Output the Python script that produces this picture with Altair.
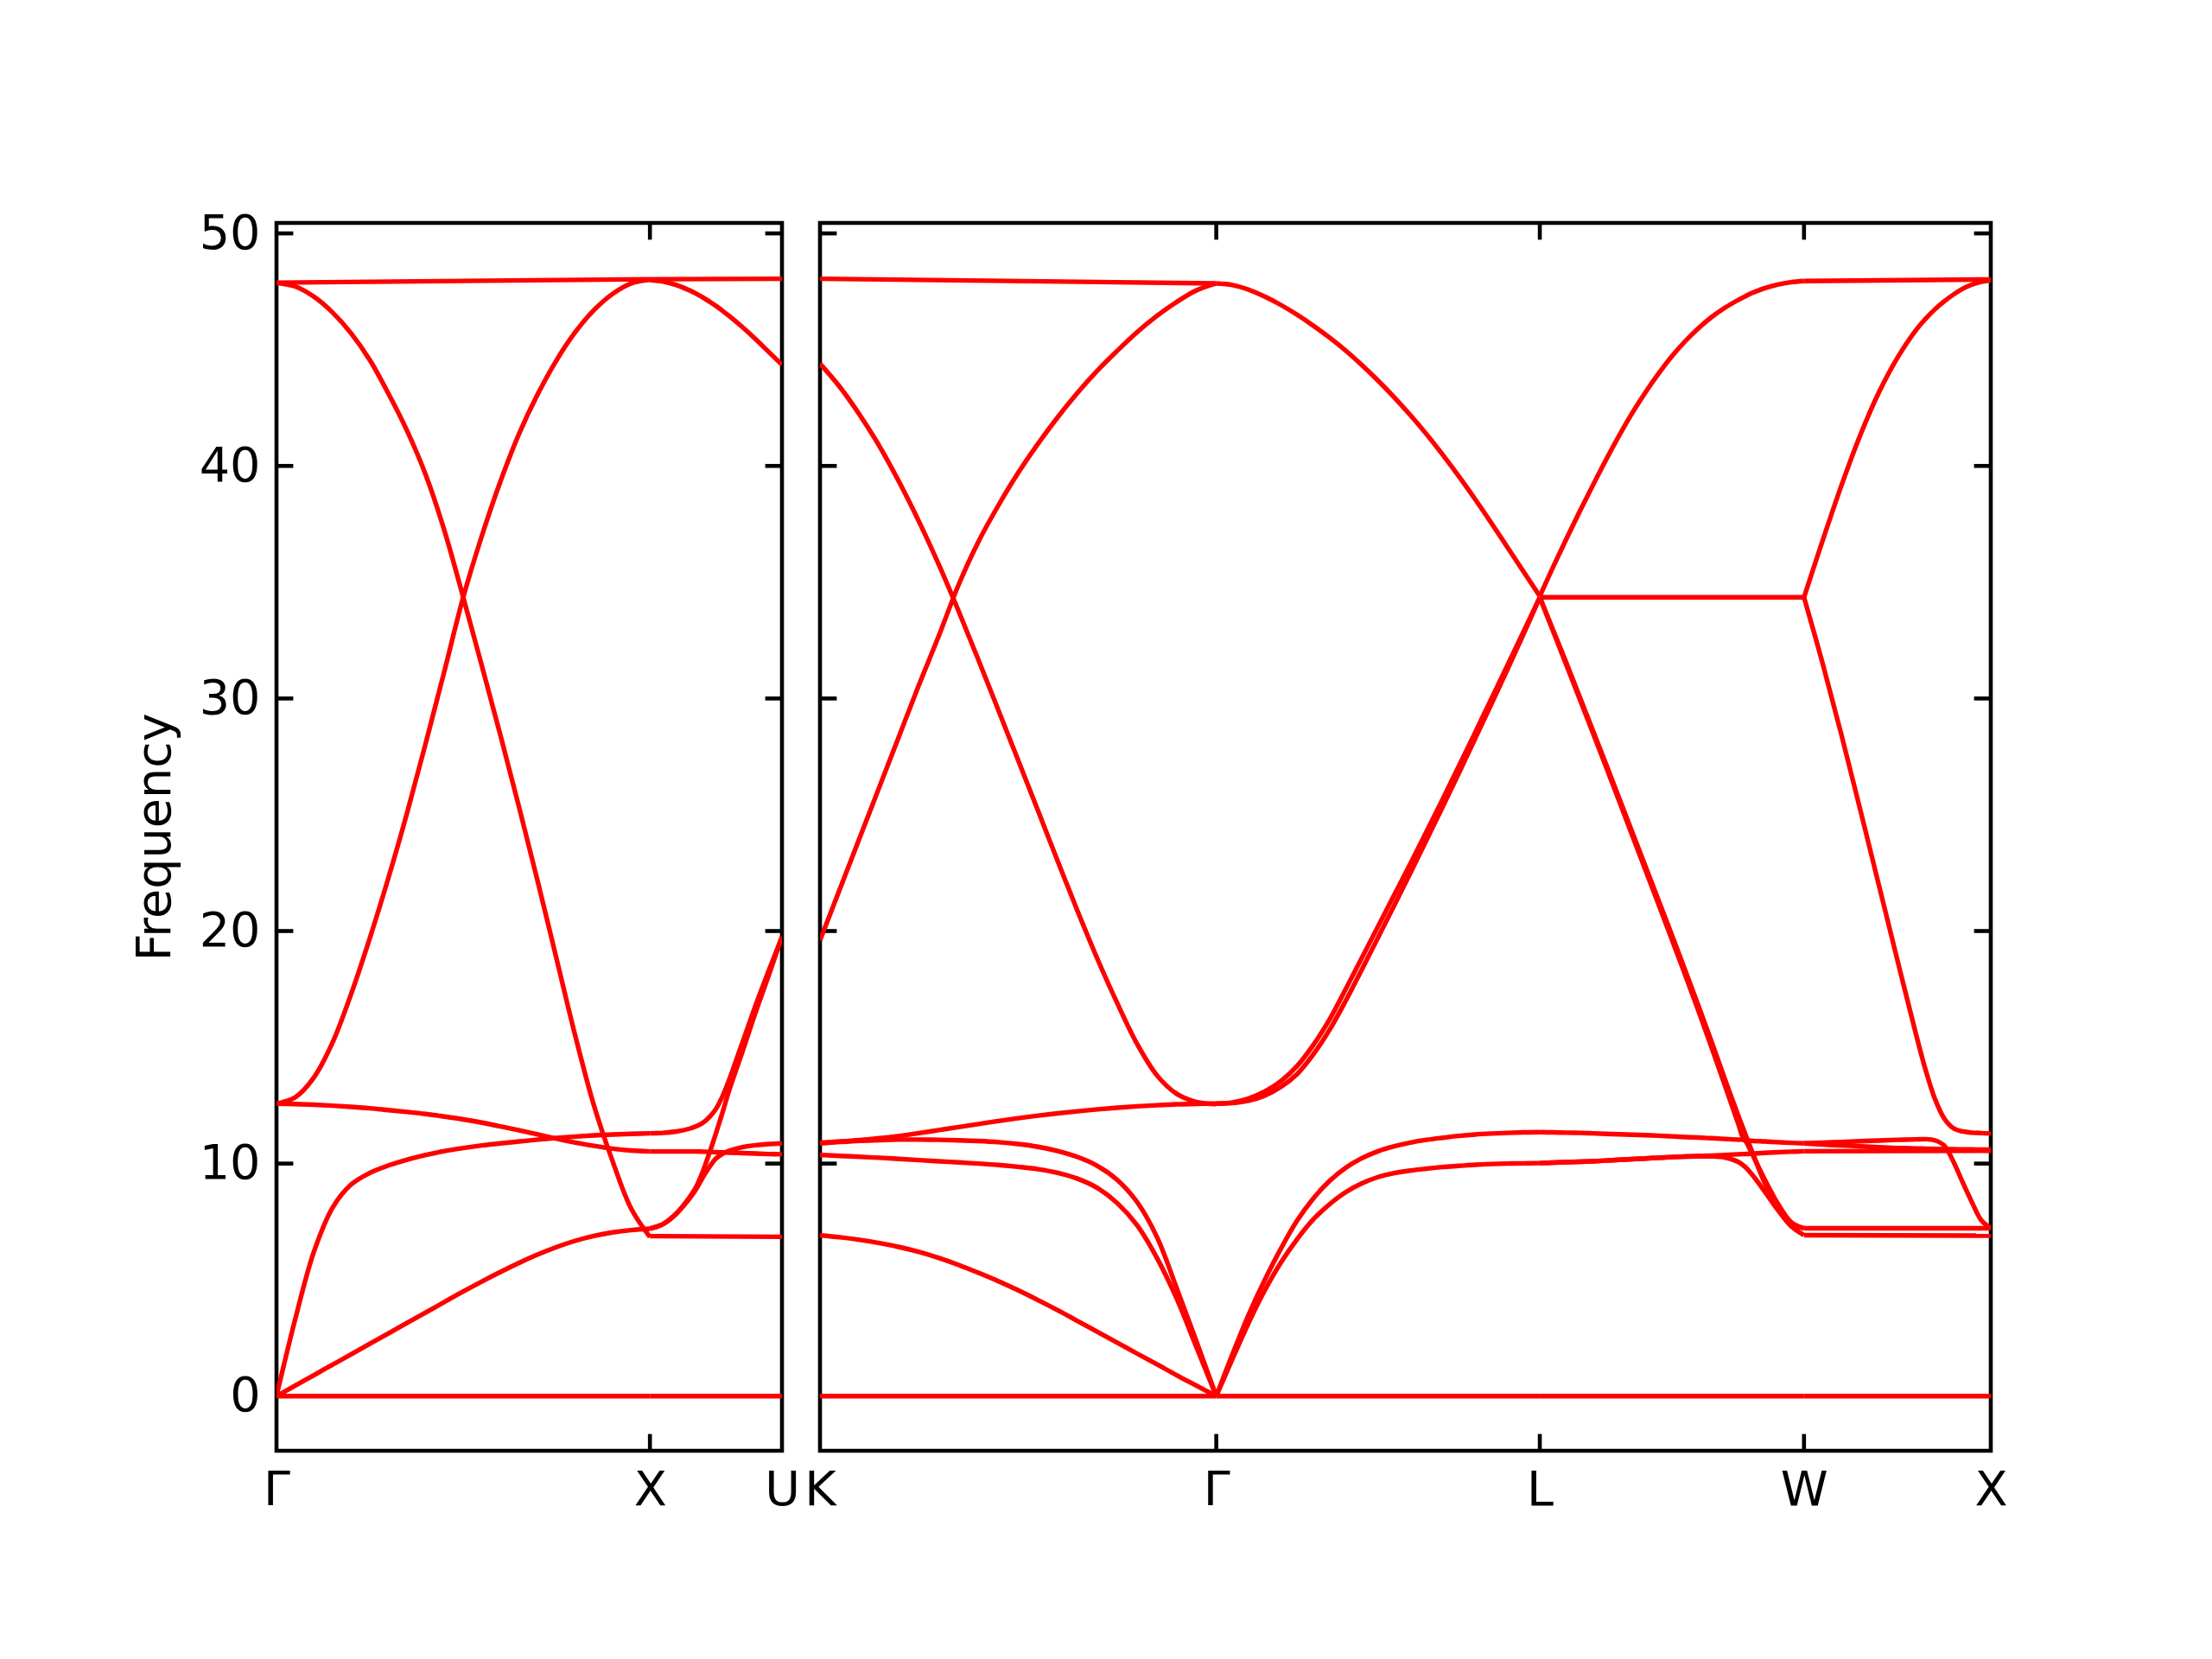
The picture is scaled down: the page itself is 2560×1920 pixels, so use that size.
import altair as alt
import pandas as pd

FONT = "DejaVu Sans"

# ---------------- path (reciprocal-space distance) ----------------
seg_start = [0.0, 1.0, 1.3536, 2.4143, 3.2803, 3.9874]   # GX, XU, KG, GL, LW, WX
seg_len = [1.0, 0.3536, 1.0607, 0.8660, 0.7071, 0.5000]
left_dom = [0.0, 1.3536]
right_dom = [1.3536, 4.4874]
left_tick_q = [0.0, 1.0, 1.3536]
left_tick_lab = ["Γ", "X", "U"]
right_tick_q = [1.3536, 2.4143, 3.2803, 3.9874, 4.4874]
right_tick_lab = ["K", "Γ", "L", "W", "X"]
y_ticks = [0, 10, 20, 30, 40, 50]

# ---------------- fractional grids along each segment ----------------
T2 = [0.0, 1.0]
T21 = [0.0, 0.05, 0.1, 0.15, 0.2, 0.25, 0.3, 0.35, 0.4, 0.45, 0.5,
       0.55, 0.6, 0.65, 0.7, 0.75, 0.8, 0.85, 0.9, 0.95, 1.0]
T_XU = [0.0, 0.1, 0.2, 0.3, 0.35, 0.4, 0.45, 0.5, 0.55, 0.6, 0.7, 0.8, 0.9, 1.0]
T_LW = [0.0, 0.05, 0.1, 0.15, 0.2, 0.25, 0.3, 0.35, 0.4, 0.45, 0.5,
        0.55, 0.6, 0.65, 0.7, 0.75, 0.775, 0.8, 0.85, 0.9, 0.95, 1.0]
T_WX = [0.0, 0.1, 0.2, 0.3, 0.4, 0.5, 0.6, 0.65, 0.7, 0.75, 0.8, 0.85, 0.9, 0.95, 1.0]

# ---------------- Gamma - X ----------------
gx_flat = [0.0, 0.0]
gx_A = [0, 0.45, 0.9, 1.35, 1.8, 2.25, 2.7, 3.15, 3.6, 4.05, 4.5, 4.93, 5.34, 5.73, 6.09, 6.41, 6.68, 6.89, 7.04, 7.14, 7.2]
gx_B = [0, 3.3, 6.2, 8.1, 9.1, 9.6, 9.92, 10.17, 10.37, 10.54, 10.67, 10.78, 10.87, 10.95, 11.03, 11.1, 11.16, 11.21, 11.25, 11.28, 11.3]
gx_C = [12.58, 12.56, 12.53, 12.49, 12.44, 12.38, 12.3, 12.22, 12.13, 12.02, 11.9, 11.76, 11.6, 11.43, 11.25, 11.07, 10.9, 10.76, 10.64, 10.56, 10.52]
gx_D = [12.58, 12.85, 13.7, 15.2, 17.3, 19.7, 22.3, 25.1, 28.1, 31.2, 34.35, 37.0, 39.35, 41.4, 43.1, 44.55, 45.75, 46.7, 47.4, 47.85, 48.0]
gx_E = [47.88, 47.72, 47.28, 46.6, 45.7, 44.55, 43.1, 41.5, 39.6, 37.2, 34.35, 31.4, 28.4, 25.3, 22.1, 18.8, 15.5, 12.5, 10.1, 8.05, 6.84]
gx_F = [47.88, 48.03]

# ---------------- X - U ----------------
xu_flat = [0.0, 0.0]
xu_G = [6.88, 6.85]
xu_A1 = [7.2, 7.4, 7.85, 8.5, 8.9, 9.4, 9.85, 10.22, 10.42, 10.55, 10.71, 10.79, 10.84, 10.87]
xu_A2 = [7.2, 7.4, 7.85, 8.55, 9.0, 9.65, 10.45, 11.3, 12.2, 13.15, 14.8, 16.5, 18.1, 19.75]
xu_B = [11.3, 11.32, 11.38, 11.5, 11.6, 11.75, 12.0, 12.35, 12.9, 13.6, 15.2, 16.8, 18.3, 19.75]
xu_C = [10.52, 10.52, 10.52, 10.52, 10.52, 10.51, 10.5, 10.49, 10.48, 10.47, 10.45, 10.43, 10.41, 10.4]
xu_D = [48.0, 47.93, 47.78, 47.55, 47.41, 47.25, 47.07, 46.88, 46.67, 46.45, 45.97, 45.45, 44.9, 44.35]
xu_F = [48.03, 48.05]

# ---------------- K - Gamma ----------------
kg_flat = [0.0, 0.0]
kg_F = [48.05, 47.85]
kg_d = [19.6, 21.8, 24.0, 26.2, 28.4, 30.6, 32.7, 34.9, 36.75, 38.3, 39.7, 40.95, 42.1, 43.15, 44.1, 44.95, 45.75, 46.45, 47.05, 47.55, 47.85]
kg_e = [44.4, 43.4, 42.2, 40.85, 39.3, 37.6, 35.75, 33.75, 31.65, 29.5, 27.35, 25.18, 23.0, 20.85, 18.8, 16.9, 15.15, 13.8, 13.0, 12.65, 12.56]
kg_c = [10.9, 10.95, 11.01, 11.09, 11.19, 11.31, 11.44, 11.57, 11.7, 11.83, 11.95, 12.06, 12.16, 12.25, 12.33, 12.4, 12.46, 12.51, 12.55, 12.57, 12.58]
kg_b2 = [10.87, 10.93, 10.98, 11.01, 11.03, 11.03, 11.02, 11.0, 10.97, 10.92, 10.84, 10.72, 10.54, 10.28, 9.9, 9.3, 8.35, 6.85, 4.65, 2.35, 0]
kg_b1 = [10.37, 10.33, 10.29, 10.25, 10.2, 10.15, 10.1, 10.05, 10.0, 9.94, 9.86, 9.76, 9.6, 9.35, 8.95, 8.3, 7.35, 5.95, 4.2, 2.1, 0]
kg_a = [6.91, 6.83, 6.72, 6.58, 6.41, 6.2, 5.94, 5.64, 5.3, 4.94, 4.55, 4.13, 3.69, 3.23, 2.76, 2.3, 1.83, 1.37, 0.9, 0.45, 0]

# ---------------- Gamma - L ----------------
gl_flat = [0.0, 0.0]
gl_LA = [0, 1.8, 3.5, 5.0, 6.35, 7.55, 8.5, 9.25, 9.82, 10.23, 10.53, 10.74, 10.9, 11.02, 11.11, 11.19, 11.25, 11.29, 11.32, 11.34, 11.35]
gl_TA = [0, 1.6, 3.15, 4.55, 5.75, 6.75, 7.6, 8.25, 8.77, 9.15, 9.42, 9.59, 9.7, 9.78, 9.85, 9.9, 9.95, 9.98, 10.0, 10.01, 10.02]
gl_O1 = [12.58, 12.63, 12.8, 13.1, 13.55, 14.2, 15.1, 16.2, 17.5, 18.85, 20.2, 21.55, 22.9, 24.28, 25.68, 27.1, 28.53, 29.98, 31.43, 32.89, 34.35]
gl_O2 = [12.58, 12.6, 12.7, 12.92, 13.3, 13.85, 14.7, 15.75, 17.0, 18.35, 19.72, 21.1, 22.5, 23.92, 25.35, 26.8, 28.27, 29.75, 31.25, 32.78, 34.35]
gl_e2 = [47.85, 47.78, 47.58, 47.28, 46.92, 46.5, 46.03, 45.52, 44.96, 44.34, 43.67, 42.95, 42.18, 41.36, 40.48, 39.55, 38.57, 37.55, 36.5, 35.45, 34.4]

# ---------------- L - W ----------------
lw_flat = [0.0, 0.0]
lw_b = [34.35, 34.35]
lw_c = [34.4, 35.65, 36.85, 38.02, 39.15, 40.25, 41.3, 42.28, 43.17, 43.98, 44.72, 45.36, 45.92, 46.4, 46.8, 47.13, 47.28, 47.42, 47.64, 47.8, 47.9, 47.95]
lw_d = [34.35, 32.95, 31.55, 30.1, 28.65, 27.2, 25.72, 24.25, 22.78, 21.3, 19.82, 18.32, 16.8, 15.25, 13.65, 12.1, 11.35, 10.62, 9.2, 8.15, 7.45, 7.22]
lw_e = [34.35, 32.9, 31.45, 30.0, 28.55, 27.08, 25.6, 24.1, 22.62, 21.13, 19.63, 18.12, 16.58, 15.0, 13.38, 11.75, 11.02, 10.98, 10.95, 10.92, 10.89, 10.87]
lw_1 = [11.35, 11.34, 11.33, 11.32, 11.3, 11.28, 11.26, 11.24, 11.22, 11.2, 11.17, 11.14, 11.12, 11.09, 11.06, 11.03, 11.0, 10.5, 9.35, 8.3, 7.5, 7.2]
lw_2 = [10.02, 10.04, 10.06, 10.08, 10.1, 10.13, 10.16, 10.19, 10.22, 10.25, 10.28, 10.3, 10.31, 10.31, 10.26, 10.08, 9.88, 9.58, 8.82, 8.02, 7.32, 6.92]
lw_4 = [10.02, 10.04, 10.06, 10.08, 10.1, 10.13, 10.16, 10.19, 10.22, 10.25, 10.28, 10.3, 10.32, 10.34, 10.37, 10.4, 10.41, 10.42, 10.46, 10.49, 10.51, 10.53]

# ---------------- W - X ----------------
wx_flat = [0.0, 0.0]
wx_b = [34.35, 36.8, 39.15, 41.3, 43.15, 44.65, 45.85, 46.32, 46.73, 47.07, 47.37, 47.62, 47.8, 47.92, 47.98]
wx_c = [34.35, 31.5, 28.45, 25.25, 22.0, 18.75, 15.55, 14.05, 12.8, 11.95, 11.52, 11.38, 11.33, 11.31, 11.3]
wx_d = [47.95, 48.02]
wx_e = [10.87, 10.9, 10.93, 10.96, 10.99, 11.02, 11.04, 11.05, 11.0, 10.78, 10.08, 9.18, 8.32, 7.55, 7.22]
wx_f = [10.87, 10.82, 10.78, 10.74, 10.7, 10.67, 10.65, 10.64, 10.63, 10.62, 10.62, 10.61, 10.61, 10.6, 10.6]
wx_g = [10.53, 10.55]
wx_h = [7.22, 7.22]
wx_i = [6.92, 6.9]

branches = [
    (0, T2, gx_flat), (0, T21, gx_A), (0, T21, gx_B), (0, T21, gx_C),
    (0, T21, gx_D), (0, T21, gx_E), (0, T2, gx_F),
    (1, T2, xu_flat), (1, T2, xu_G), (1, T_XU, xu_A1), (1, T_XU, xu_A2),
    (1, T_XU, xu_B), (1, T_XU, xu_C), (1, T_XU, xu_D), (1, T2, xu_F),
    (2, T2, kg_flat), (2, T2, kg_F), (2, T21, kg_d), (2, T21, kg_e),
    (2, T21, kg_c), (2, T21, kg_b2), (2, T21, kg_b1), (2, T21, kg_a),
    (3, T2, gl_flat), (3, T21, gl_LA), (3, T21, gl_TA), (3, T21, gl_O1),
    (3, T21, gl_O2), (3, T21, gl_e2),
    (4, T2, lw_flat), (4, T2, lw_b), (4, T_LW, lw_c), (4, T_LW, lw_d),
    (4, T_LW, lw_e), (4, T_LW, lw_1), (4, T_LW, lw_2), (4, T_LW, lw_4),
    (5, T2, wx_flat), (5, T_WX, wx_b), (5, T_WX, wx_c), (5, T2, wx_d),
    (5, T_WX, wx_e), (5, T_WX, wx_f), (5, T2, wx_g), (5, T2, wx_h), (5, T2, wx_i),
]

rows = []
for bid, (s, grid, vals) in enumerate(branches):
    for t, f in zip(grid, vals):
        rows.append({"q": seg_start[s] + t * seg_len[s], "f": f, "band": bid,
                     "panel": "L" if s < 2 else "R"})
df = pd.DataFrame(rows)
df_left = df[df.panel == "L"]
df_right = df[df.panel == "R"]

# ---------------- layout ----------------
H = 1421
WL = 585
WR = 1355
TICK = 19.4
AX_W = 4.6
LINE_W = 5.4
yscale = alt.Scale(domain=[-2.35, 50.45], nice=False, zero=False)


def label_expr(qs, labs):
    expr = "'" + labs[-1] + "'"
    for i in range(len(qs) - 2, -1, -1):
        mid = (qs[i] + qs[i + 1]) / 2
        expr = f"datum.value < {mid:.4f} ? '{labs[i]}' : ({expr})"
    return expr


def panel(data, xdom, tq, tl, width, show_y):
    xs = alt.Scale(domain=xdom, nice=False, zero=False)
    xaxis = alt.Axis(values=tq, labelExpr=label_expr(tq, tl), ticks=False, domain=False,
                     grid=False, title=None, labelFontSize=55.6, labelFont=FONT,
                     labelColor="black", labelPadding=18, labelFlush=False,
                     labelOverlap=False, labelAngle=0)
    if show_y:
        yaxis = alt.Axis(values=y_ticks, ticks=False, domain=False, grid=False,
                         title="Frequency", titleFont=FONT, titleFontSize=55.6,
                         titleFontWeight="normal", titleColor="black", titlePadding=22,
                         labelFontSize=55.6, labelFont=FONT, labelColor="black",
                         labelPadding=19, labelFlush=False, labelOverlap=False)
    else:
        yaxis = None
    ydf = pd.DataFrame({"v": y_ticks})
    inner = [q for q in tq if xdom[0] + 1e-6 < q < xdom[1] - 1e-6]
    xdf = pd.DataFrame({"v": inner})
    rule = dict(color="black", strokeWidth=AX_W)
    yl = alt.Chart(ydf).mark_rule(**rule).encode(
        y=alt.Y("v:Q", scale=yscale, axis=yaxis), x=alt.value(0), x2=alt.value(TICK))
    yr = alt.Chart(ydf).mark_rule(**rule).encode(
        y=alt.Y("v:Q", scale=yscale, axis=yaxis), x=alt.value(width - TICK), x2=alt.value(width))
    xt = alt.Chart(xdf).mark_rule(**rule).encode(
        x=alt.X("v:Q", scale=xs, axis=xaxis), y=alt.value(0), y2=alt.value(TICK))
    xb = alt.Chart(xdf).mark_rule(**rule).encode(
        x=alt.X("v:Q", scale=xs, axis=xaxis), y=alt.value(H - TICK), y2=alt.value(H))
    lines = alt.Chart(data).mark_line(color="#ff0000", strokeWidth=LINE_W,
                                      interpolate="catmull-rom", clip=True).encode(
        x=alt.X("q:Q", scale=xs, axis=xaxis),
        y=alt.Y("f:Q", scale=yscale, axis=yaxis),
        detail="band:N",
    )
    return alt.layer(yl, yr, xt, xb, lines).properties(width=width, height=H)


left = panel(df_left, left_dom, left_tick_q, left_tick_lab, WL, True)
right = panel(df_right, right_dom, right_tick_q, right_tick_lab, WR, False)

chart = alt.hconcat(left, right, spacing=44, bounds="flush").properties(
    padding={"left": 141, "top": 232, "right": 20, "bottom": 20},
    background="white",
).configure_view(stroke="black", strokeWidth=AX_W)

chart.save("out.html", embed_options={"renderer": "svg", "actions": False})
